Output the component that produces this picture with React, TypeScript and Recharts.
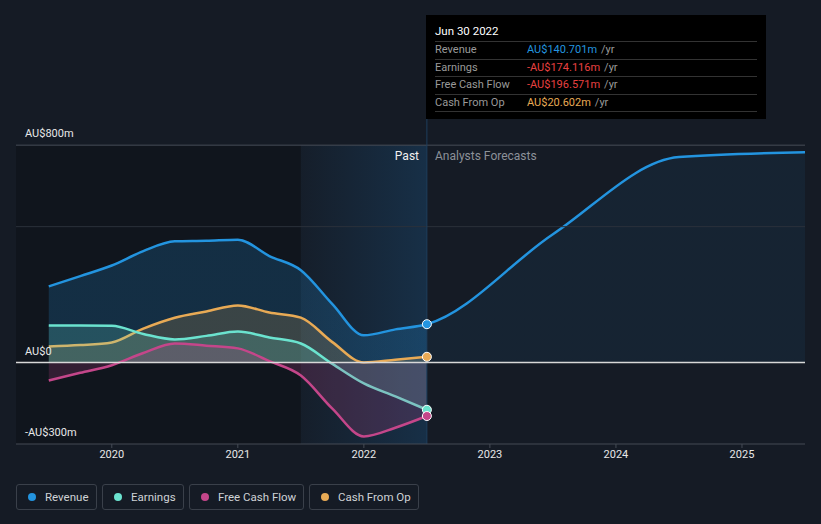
import React from "react";
import {
  ComposedChart,
  Area,
  XAxis,
  YAxis,
  ReferenceLine,
  ReferenceArea,
} from "recharts";

const pastTimes = [2019.5, 2019.75, 2020.0, 2020.25, 2020.5, 2020.75, 2021.0, 2021.25, 2021.5, 2021.75, 2022.0, 2022.25, 2022.5];
const pastRevenue = [280, 318, 357, 410, 446, 448, 452, 392, 340, 215, 100, 122, 141];
const pastEarnings = [136, 136, 135, 105, 85, 98, 114, 92, 70, -5, -77, -125, -174];
const pastFcf = [-66, -38, -10, 35, 70, 62, 52, 5, -48, -170, -272, -240, -197];
const pastCfo = [59, 64, 74, 125, 165, 188, 210, 184, 165, 75, 0, 10, 21];

const forecastTimes = [2023.5, 2024.5, 2025.5];
const forecastRevenue = [472, 756, 774];

const xTicks = [2020, 2021, 2022, 2023, 2024, 2025];

const data = [
  ...pastTimes.map((t, i) => ({
    t,
    revenue: pastRevenue[i],
    earnings: pastEarnings[i],
    fcf: pastFcf[i],
    cfo: pastCfo[i],
  })),
  ...forecastTimes.map((t, i) => ({ t, revenue: forecastRevenue[i] })),
];

const LAST_PAST = 2022.5;
const X_MIN = 2019.24;
const X_MAX = 2025.5;
const C_REV = "#2394df";
const C_EARN = "#6be3cf";
const C_FCF = "#c4468a";
const C_CFO = "#e8aa55";
const FONT = "Roboto, 'Noto Sans', sans-serif";

const makeDot = (color: string) => (props: any) => {
  const { cx, cy, payload, index } = props;
  if (!payload || payload.t !== LAST_PAST || cx == null || cy == null) {
    return <g key={`d-${index}`} />;
  }
  return <circle key={`d-${index}`} cx={cx} cy={cy} r={4.5} fill={color} stroke="#ffffff" strokeWidth={1} />;
};

const yLabel = (text: string) => (props: any) => {
  const vb = props.viewBox || {};
  return (
    <text x={25} y={(vb.y ?? 0) - 8} fill="#e8e8e8" fontSize={11} fontFamily={FONT}>
      {text}
    </text>
  );
};

const legendItems = [
  { name: "Revenue", color: C_REV, left: 16, width: 81 },
  { name: "Earnings", color: C_EARN, left: 102, width: 82 },
  { name: "Free Cash Flow", color: C_FCF, left: 189, width: 115 },
  { name: "Cash From Op", color: C_CFO, left: 309, width: 110 },
];

const tooltipRows = [
  { label: "Revenue", value: "AU$140.701m", color: "#2394df" },
  { label: "Earnings", value: "-AU$174.116m", color: "#e84040" },
  { label: "Free Cash Flow", value: "-AU$196.571m", color: "#e84040" },
  { label: "Cash From Op", value: "AU$20.602m", color: "#e8aa55" },
];

// fraction of the revenue series' x-extent where the past ends
const revSplit = (LAST_PAST - pastTimes[0]) / (forecastTimes[forecastTimes.length - 1] - pastTimes[0]);

export default function App() {
  return (
    <div
      style={{
        position: "absolute",
        left: 0,
        top: 0,
        width: 821,
        height: 524,
        background: "#151b25",
        fontFamily: FONT,
        overflow: "hidden",
      }}
    >
      <ComposedChart
        width={821}
        height={524}
        data={data}
        margin={{ top: 118, right: 16, left: 16, bottom: 50 }}
      >
        <defs>
          <linearGradient id="bandGrad" x1="0" y1="0" x2="1" y2="0">
            <stop offset="0" stopColor="#1d6aa8" stopOpacity={0.04} />
            <stop offset="1" stopColor="#1d6aa8" stopOpacity={0.26} />
          </linearGradient>
          <linearGradient id="revGrad" x1="0" y1="0" x2="1" y2="0">
            <stop offset="0" stopColor={C_REV} stopOpacity={0.2} />
            <stop offset={revSplit} stopColor={C_REV} stopOpacity={0.2} />
            <stop offset={revSplit} stopColor={C_REV} stopOpacity={0.07} />
            <stop offset="1" stopColor={C_REV} stopOpacity={0.07} />
          </linearGradient>
        </defs>
        <XAxis
          dataKey="t"
          type="number"
          domain={[X_MIN, X_MAX]}
          ticks={xTicks}
          tickFormatter={(v: number) => String(v)}
          height={30}
          stroke="#454b55"
          tickLine={{ stroke: "#454b55" }}
          tickSize={4}
          tick={{ fill: "#e8e8e8", fontSize: 11, fontFamily: FONT }}
          allowDataOverflow
        />
        <YAxis hide type="number" domain={[-300, 900]} allowDataOverflow />
        <ReferenceArea x1={X_MIN} x2={2021.5} y1={-300} y2={800} fill="#000000" fillOpacity={0.2} stroke="none" ifOverflow="visible" />
        <ReferenceArea x1={2021.5} x2={LAST_PAST} y1={-300} y2={800} fill="url(#bandGrad)" fillOpacity={1} stroke="none" ifOverflow="visible" />
        <ReferenceLine y={800} stroke="#474d57" strokeWidth={1} label={yLabel("AU$800m")} />
        <ReferenceLine y={500} stroke="#2b313b" strokeWidth={1} />
        <ReferenceLine x={LAST_PAST} stroke="#1e3e5c" strokeWidth={1} />
        <Area
          type="monotone"
          dataKey="revenue"
          stroke={C_REV}
          strokeWidth={2.5}
          fill="url(#revGrad)"
          fillOpacity={1}
          baseValue={0}
          isAnimationActive={false}
          dot={makeDot(C_REV)}
          activeDot={false}
        />
        <Area
          type="monotone"
          dataKey="cfo"
          stroke={C_CFO}
          strokeWidth={2.5}
          fill={C_CFO}
          fillOpacity={0.18}
          baseValue={0}
          isAnimationActive={false}
          dot={makeDot(C_CFO)}
          activeDot={false}
        />
        <Area
          type="monotone"
          dataKey="earnings"
          stroke={C_EARN}
          strokeWidth={2.5}
          fill={C_EARN}
          fillOpacity={0.2}
          baseValue={0}
          isAnimationActive={false}
          dot={makeDot(C_EARN)}
          activeDot={false}
        />
        <Area
          type="monotone"
          dataKey="fcf"
          stroke={C_FCF}
          strokeWidth={2.5}
          fill={C_FCF}
          fillOpacity={0.2}
          baseValue={0}
          isAnimationActive={false}
          dot={makeDot(C_FCF)}
          activeDot={false}
        />
        <ReferenceLine y={0} stroke="#d8d8d8" strokeWidth={1.5} label={yLabel("AU$0")} />
        <ReferenceLine y={-300} stroke="none" label={yLabel("-AU$300m")} />
      </ComposedChart>

      <div
        style={{
          position: "absolute",
          left: 386,
          top: 148,
          width: 33,
          textAlign: "right",
          color: "#f0f0f0",
          fontSize: 12,
          lineHeight: "16px",
        }}
      >
        Past
      </div>
      <div
        style={{
          position: "absolute",
          left: 435,
          top: 148,
          color: "#8c9199",
          fontSize: 12,
          lineHeight: "16px",
          whiteSpace: "nowrap",
        }}
      >
        Analysts Forecasts
      </div>

      <div
        style={{
          position: "absolute",
          left: 426,
          top: 15,
          width: 340,
          height: 104,
          background: "#000000",
          boxSizing: "border-box",
          padding: "0 9px",
        }}
      >
        <div
          style={{
            height: 26,
            lineHeight: "32px",
            color: "#ffffff",
            fontSize: 11.5,
            borderBottom: "1px solid #333",
          }}
        >
          Jun 30 2022
        </div>
        {tooltipRows.map((r) => (
          <div
            key={r.label}
            style={{
              height: 16.5,
              lineHeight: "16.5px",
              fontSize: 11,
              borderBottom: "1px solid #333",
              display: "flex",
              whiteSpace: "nowrap",
            }}
          >
            <span style={{ width: 92, color: "#9a9a9a" }}>{r.label}</span>
            <span style={{ color: r.color }}>{r.value}</span>
            <span style={{ color: "#9a9a9a", marginLeft: 4 }}>/yr</span>
          </div>
        ))}
      </div>

      {legendItems.map((it) => (
        <div
          key={it.name}
          style={{
            position: "absolute",
            left: it.left,
            top: 484,
            width: it.width,
            height: 26,
            boxSizing: "border-box",
            border: "1px solid #3a404a",
            borderRadius: 3,
            display: "flex",
            alignItems: "center",
            paddingLeft: 11,
            whiteSpace: "nowrap",
          }}
        >
          <span
            style={{
              width: 8,
              height: 8,
              borderRadius: 4,
              background: it.color,
              display: "inline-block",
              marginRight: 9,
            }}
          />
          <span style={{ color: "#cfd2d6", fontSize: 11.5 }}>{it.name}</span>
        </div>
      ))}
    </div>
  );
}
